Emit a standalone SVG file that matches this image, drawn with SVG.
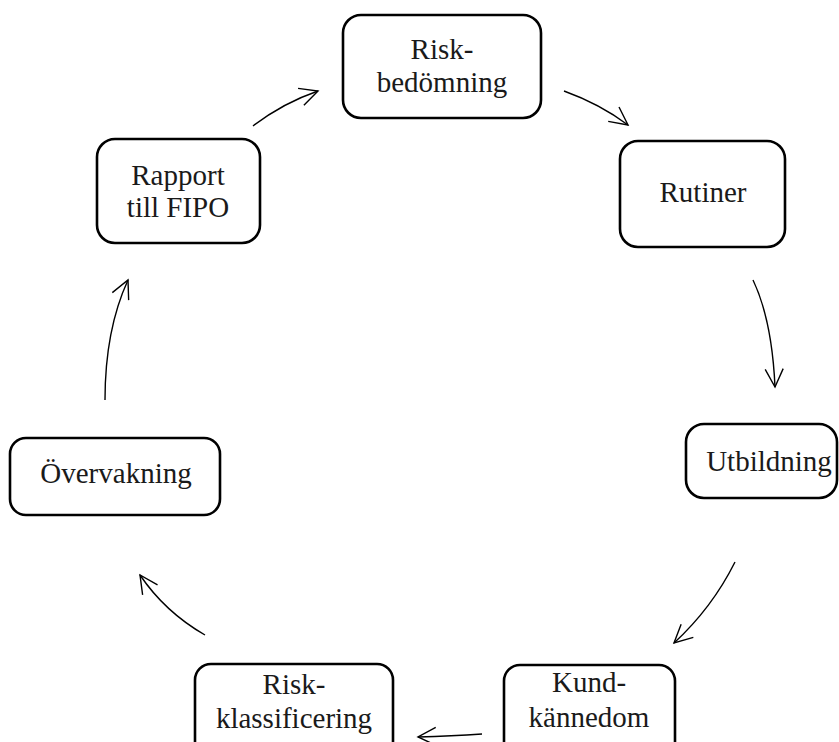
<svg xmlns="http://www.w3.org/2000/svg" width="839" height="742" viewBox="0 0 839 742">
<style>
.box{fill:#fff;stroke:#000;stroke-width:2.6}
.t{font-family:"Liberation Serif","Times New Roman",serif;font-size:29px;fill:#1a1a1a;text-anchor:middle}
.c{fill:none;stroke:#000;stroke-width:1.4}
</style>
<defs>
<marker id="ah" markerUnits="userSpaceOnUse" markerWidth="24" markerHeight="24" refX="20" refY="10" orient="auto" viewBox="0 0 24 20">
<path d="M2,1 L20,10 L2,19" fill="none" stroke="#000" stroke-width="1.4"/>
</marker>
</defs>
<rect width="839" height="742" fill="#fff"/>
<g id="connectors">
<path class="c" d="M253,126 Q283,103 318,91" marker-end="url(#ah)"/>
<path class="c" d="M564,91 Q600,104 628,125" marker-end="url(#ah)"/>
<path class="c" d="M753,280 Q772,320 775,387" marker-end="url(#ah)"/>
<path class="c" d="M735,562 Q712,608 674,643" marker-end="url(#ah)"/>
<path class="c" d="M482,734 Q452,736 418,737" marker-end="url(#ah)"/>
<path class="c" d="M205,635 Q165,612 140,575" marker-end="url(#ah)"/>
<path class="c" d="M105,400 Q105,330 128,280" marker-end="url(#ah)"/>
</g>
<g id="riskbedomning">
<rect class="box" x="343" y="15" width="198" height="103" rx="18"/>
<text class="t" x="442" y="59">Risk-</text>
<text class="t" x="442" y="92">bedömning</text>
</g>
<g id="rutiner">
<rect class="box" x="620" y="141" width="165" height="106" rx="18"/>
<text class="t" x="703" y="202">Rutiner</text>
</g>
<g id="utbildning">
<rect class="box" x="686" y="424" width="151" height="74" rx="18"/>
<text class="t" x="769" y="471">Utbildning</text>
</g>
<g id="kundkannedom">
<rect class="box" x="504" y="665" width="171" height="95" rx="16"/>
<text class="t" x="589" y="692">Kund-</text>
<text class="t" x="589" y="727">kännedom</text>
</g>
<g id="riskklassificering">
<rect class="box" x="195" y="664" width="198" height="96" rx="16"/>
<text class="t" x="294" y="694">Risk-</text>
<text class="t" x="294" y="728">klassificering</text>
</g>
<g id="overvakning">
<rect class="box" x="10" y="438" width="210" height="77" rx="16"/>
<text class="t" x="116" y="483">Övervakning</text>
</g>
<g id="rapport">
<rect class="box" x="97" y="139" width="163" height="104" rx="18"/>
<text class="t" x="178" y="185">Rapport</text>
<text class="t" x="178" y="217">till FIPO</text>
</g>
</svg>
